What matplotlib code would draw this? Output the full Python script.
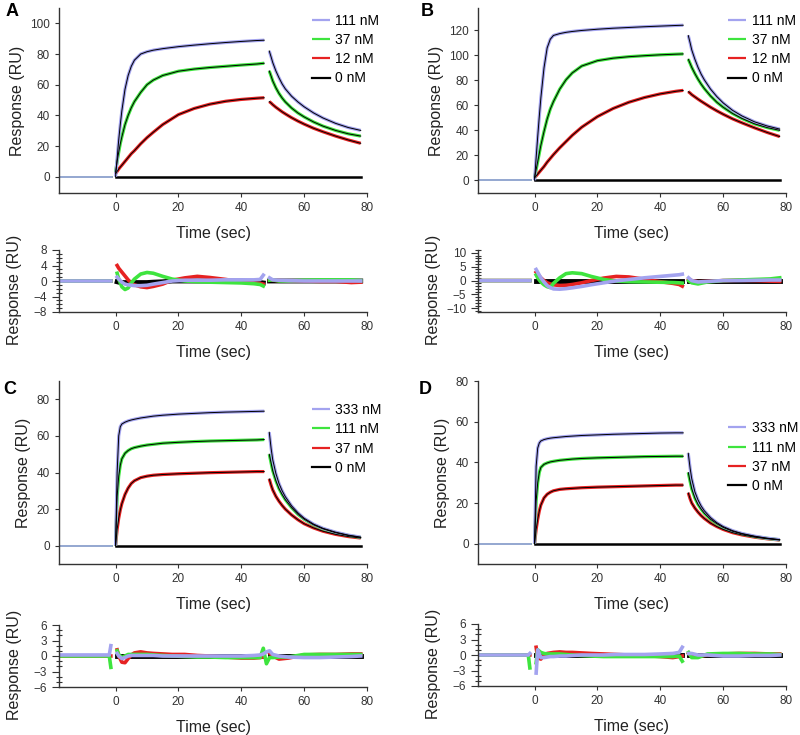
import numpy as np
import matplotlib.pyplot as plt
from matplotlib.ticker import MultipleLocator

plt.rcParams['font.family'] = ['Liberation Sans', 'DejaVu Sans']

# barvy koncentraci (vysoka, stredni, nizka, 0 nM)
c_hi = '#a3a3ef'
c_mid = '#3ee43e'
c_lo = '#e62222'

# casy asociace a disociace (sec)
t_as = [0, 0.5, 1, 1.5, 2, 3, 4, 5, 6, 8, 10, 12, 15, 20, 25, 30, 35, 40, 45, 47.3]
t_dis = [48.9, 49.5, 50, 51, 52, 53, 54, 56, 58, 60, 63, 66, 70, 74, 78]
t_base = [-18, -10, -1]
base = [0, 0, 0]
t_blank = [0, 20, 47.3, 48.9, 78]
blank = [0, 0, 0, 0, 0]

# panel A (111, 37, 12 nM)
A_hi = [0, 12, 24, 34, 43, 57, 66, 72, 76, 80, 81.5, 82.5, 83.5, 84.8, 85.8, 86.7, 87.5, 88.2, 88.8, 89]
A_mid = [3, 10, 16, 21.5, 26, 34, 40, 45, 49, 55, 60, 63, 66, 68.8, 70.2, 71.2, 72, 72.8, 73.5, 74]
A_lo = [2, 3.5, 5, 6.3, 7.5, 10, 12.5, 15, 17, 21.5, 25.5, 29, 34, 40.5, 44.5, 47.3, 49.2, 50.4, 51.2, 51.5]
A_hi_d = [82, 78, 74.5, 69, 64.5, 60.5, 57.3, 52.5, 48.8, 45.6, 41.6, 38.3, 34.8, 32.1, 30.2]
A_mid_d = [69, 65.5, 62.5, 58, 54.3, 51.3, 48.8, 44.8, 41.6, 39, 35.7, 33, 30.2, 28, 26.5]
A_lo_d = [49, 48, 47, 45.3, 43.8, 42.3, 41, 38.5, 36.3, 34.3, 31.6, 29.3, 26.5, 24, 21.8]

# panel B (111, 37, 12 nM)
B_hi = [0, 18, 35, 51, 66, 90, 106, 113, 116, 117.5, 118.5, 119.2, 120, 121, 121.8, 122.4, 123, 123.5, 124, 124.2]
B_mid = [2, 8.5, 15, 21.5, 28, 39, 49, 57, 63, 73, 80.5, 86, 91.5, 95.8, 97.8, 99, 99.8, 100.5, 101, 101.2]
B_lo = [2, 3.5, 5, 6.5, 8, 11, 14.5, 17.5, 20.5, 26, 31, 36, 42.5, 51, 57.5, 62.5, 66.3, 69.2, 71.3, 72]
B_hi_d = [116, 110, 104.5, 97, 90.5, 85, 80.5, 73, 67, 62, 56, 51.5, 46.8, 43.5, 41]
B_mid_d = [97, 93.5, 90.5, 85.5, 81, 77, 73.5, 67.5, 62.5, 58.5, 53.5, 49.5, 45.2, 42.2, 40]
B_lo_d = [71, 69.8, 68.6, 66.8, 65, 63.3, 61.7, 58.5, 55.6, 52.9, 49.2, 46, 42, 38.3, 35]

# panel C (333, 111, 37 nM)
C_hi = [0, 40, 60, 65, 66.5, 67.5, 68.2, 68.7, 69.1, 69.8, 70.3, 70.8, 71.3, 71.9, 72.3, 72.7, 73, 73.2, 73.4, 73.5]
C_mid = [0, 27, 38, 44, 47.5, 50.5, 52, 53, 53.6, 54.4, 55, 55.4, 56, 56.5, 56.9, 57.2, 57.4, 57.6, 57.8, 58]
C_lo = [0, 9, 15, 19.5, 23, 28, 31.5, 34, 35.5, 37.2, 38, 38.5, 38.9, 39.3, 39.6, 39.9, 40.1, 40.3, 40.5, 40.5]
C_hi_d = [62, 53, 47, 39.5, 34, 30, 26.8, 21.8, 18, 15, 11.8, 9.5, 7.4, 5.8, 4.7]
C_mid_d = [50, 45, 41, 35.5, 31.2, 28, 25.2, 20.8, 17.2, 14.5, 11.4, 9.2, 7.1, 5.6, 4.5]
C_lo_d = [36.5, 33, 30.5, 27, 24.3, 22, 20, 16.8, 14.2, 12, 9.7, 7.9, 6.2, 5, 4.2]

# panel D (333, 111, 37 nM)
D_hi = [0, 38, 47, 49.5, 50.5, 51.2, 51.6, 51.9, 52.1, 52.4, 52.7, 52.9, 53.2, 53.5, 53.8, 54, 54.2, 54.4, 54.5, 54.5]
D_mid = [0, 21, 30, 35, 37.5, 39, 39.7, 40.2, 40.5, 41, 41.3, 41.6, 41.9, 42.2, 42.4, 42.6, 42.8, 42.9, 43, 43]
D_lo = [0, 7, 12, 16, 19, 22.5, 24.3, 25.3, 26, 26.7, 27, 27.2, 27.5, 27.8, 28, 28.2, 28.4, 28.6, 28.8, 28.8]
D_hi_d = [44.5, 37, 32, 25.5, 21.5, 18.5, 16.2, 12.8, 10.3, 8.4, 6.4, 5, 3.7, 2.7, 2]
D_mid_d = [35, 30.5, 27, 22.5, 19.3, 17, 15, 12, 9.8, 8, 6.1, 4.8, 3.5, 2.6, 1.9]
D_lo_d = [25, 22, 20, 17.5, 15.5, 13.8, 12.4, 10.1, 8.4, 7, 5.4, 4.3, 3.2, 2.4, 1.8]

# rezidua (nan = preruseni krivky)
nan = np.nan
t_res = [-18, -10, -2, -1.5, -1, 0.5, 1, 2, 3, 4, 5, 6, 8, 10, 12, 15, 18, 22, 26, 30,
         35, 40, 44, 46, 47, 48, 49, 50, 52, 55, 60, 65, 70, 75, 78]
rA_hi = [0, 0, 0, 0, nan, 1, 0.5, -0.3, -0.8, -1, -1.1, -1.2, -1.2, -1.1, -0.8, -0.4, 0, 0.2, 0.2, 0.2,
         0.3, 0.3, 0.3, 0.4, 1.5, nan, 0.8, 0.3, 0.2, 0.1, 0, 0, 0, 0, 0]
rA_mid = [0, 0, 0, 0, nan, 2, 0.5, -1.5, -2.2, -1.8, -0.5, 0.5, 1.8, 2.2, 2, 1.2, 0.5, 0, -0.2, -0.3,
          -0.4, -0.5, -0.7, -0.9, -1.3, nan, 0.2, 0.3, 0, 0, 0.2, 0.3, 0.3, 0.3, 0.1]
rA_lo = [0, 0, 0, 0, nan, 4, 3.3, 2.3, 1.3, 0.3, -0.5, -1, -1.5, -1.7, -1.4, -0.8, 0.2, 0.8, 1.2, 0.9,
         0.4, -0.2, -0.5, -0.6, -0.8, nan, 0.3, 0.2, 0.1, 0, 0, -0.1, -0.1, -0.4, -0.3]
rA_0 = [nan, nan, nan, nan, nan, -0.2, -0.3, -0.4, -0.4, -0.4, -0.4, -0.4, -0.4, -0.4, -0.3, -0.2, 0, 0, 0, 0,
        0, 0, -0.2, -0.4, -0.5, nan, 0, 0, 0, 0, 0, 0, 0, 0, 0]
rB_hi = [0, 0, 0, 0, nan, 4, 3, 1, -0.5, -1.8, -2.5, -3, -3.1, -2.9, -2.6, -2.1, -1.5, -0.8, -0.1, 0.4,
         1, 1.5, 1.9, 2.1, 2.3, nan, 1, 0, -0.5, -0.3, 0, 0, 0.1, 0.2, 0.2]
rB_mid = [0, 0, 0, 0, nan, 2, 1, -0.5, -1.5, -2.2, -2.5, -1, 1, 2.5, 2.8, 2.5, 1.5, 0.4, -0.2, -0.4,
          -0.5, -0.6, -0.7, -0.8, -0.9, nan, 0, -0.8, -1.2, -0.5, 0, 0.2, 0.4, 0.6, 1]
rB_lo = [0, 0, 0, 0, nan, 3, 2.3, 1, 0, -0.8, -1.2, -1.5, -1.8, -1.7, -1.4, -0.8, 0, 0.9, 1.5, 1.3,
         0.5, -0.4, -1, -1.4, -2, nan, 0.5, 0, -0.4, -0.3, 0, 0.1, 0, -0.2, -0.3]
rB_0 = [nan, nan, nan, nan, nan, 0, 0, 0, 0, 0, 0, 0, 0, 0, 0, 0, 0, 0, 0, 0,
        0, 0, 0, 0, 0, nan, 0, 0, 0, 0, 0, 0, 0, 0, 0]
rC_hi = [0.2, 0.2, 0.2, 2, nan, 0.5, 0, -0.5, -0.3, 0, 0.1, 0.1, 0.1, 0.1, 0.1, 0, 0, 0, 0, 0,
         0, 0, 0.1, 0.2, 0.4, 0.8, 1, 0.3, 0, -0.2, -0.3, -0.3, -0.2, -0.1, 0]
rC_mid = [0, 0, 0, -2.2, nan, 1, 0.3, -0.3, 0, 0.3, 0.3, 0.3, 0.3, 0.3, 0.2, 0.1, 0, -0.1, -0.2, -0.2,
          -0.3, -0.3, -0.3, -0.3, 1.5, -1.5, -0.3, -0.3, -0.2, -0.2, 0.3, 0.3, 0.3, 0.3, 0.3]
rC_lo = [0, 0, 0, 0, nan, 1.2, 0, -1.2, -1.3, -0.5, 0.2, 0.6, 0.8, 0.6, 0.5, 0.4, 0.3, 0.3, 0.1, 0,
         -0.2, -0.4, -0.4, -0.3, -0.2, nan, 0.6, 0, -0.6, -0.4, 0.2, 0.3, 0.3, 0.4, 0.4]
rD_hi = [0, 0, 0, 0.3, nan, -3.5, 1, -0.5, -0.5, -0.4, -0.3, -0.3, -0.2, -0.2, -0.1, 0, 0, 0, 0.1, 0.1,
         0.1, 0.2, 0.3, 0.5, 1.5, nan, 0.3, 0.3, 0, 0, -0.2, -0.2, -0.1, -0.1, 0]
rD_mid = [0, 0, 0, -2.5, nan, -1.5, 1, 0.5, 0.3, 0.2, 0.2, 0.2, 0.2, 0.1, 0, -0.1, -0.2, -0.3, -0.3, -0.3,
          -0.3, -0.3, -0.3, -0.2, -1.2, nan, 0.5, -0.5, -0.5, 0.2, 0.3, 0.3, 0.2, 0.2, 0.1]
rD_lo = [0, 0, 0, 0, nan, 1.5, -0.5, -0.8, 0, 0.3, 0.4, 0.5, 0.6, 0.5, 0.5, 0.4, 0.3, 0.2, 0.1, 0,
         -0.1, -0.3, -0.5, -0.3, -0.2, nan, 0.3, -0.3, -0.3, 0, 0.2, 0.3, 0.3, 0.2, 0.2]

labels_AB = ['111 nM', '37 nM', '12 nM', '0 nM']
labels_CD = ['333 nM', '111 nM', '37 nM', '0 nM']

fig = plt.figure(figsize=(8, 7.35), dpi=100)


def uprava_os(ax):
    # jen leva a spodni osa
    ax.spines['top'].set_visible(False)
    ax.spines['right'].set_visible(False)
    for s in ['left', 'bottom']:
        ax.spines[s].set_color('#333333')
        ax.spines[s].set_linewidth(1.0)
    ax.set_xlim(-18, 80)
    ax.set_xticks([0, 20, 40, 60, 80])
    ax.tick_params(labelsize=8.5, labelcolor='#333333', color='#333333', length=3, width=0.8)
    ax.set_xlabel('Time (sec)', fontsize=11.5, color='#222222', labelpad=8.5)


def senzorgram(ax, vys, stred, niz, vys_d, stred_d, niz_d, ylim, ystep, popisky, leg_x, leg_y):
    uprava_os(ax)
    # zakladni linie pred injekci
    for c in [c_lo, c_mid, c_hi]:
        ax.plot(t_base, base, color=c, lw=1.2)
    ax.plot(t_blank, blank, color='black', lw=1.8)
    # namerena data
    h = []
    for y, yd, c in [(niz, niz_d, c_lo), (stred, stred_d, c_mid), (vys, vys_d, c_hi)]:
        l, = ax.plot(t_as, y, color=c, lw=2.3, solid_capstyle='butt')
        ax.plot(t_dis, yd, color=c, lw=2.3, solid_capstyle='butt')
        h.append(l)
    # fit (cerne tenke krivky)
    for y, yd in [(niz, niz_d), (stred, stred_d), (vys, vys_d)]:
        ax.plot(t_as, y, color='black', lw=0.7)
        ax.plot(t_dis, yd, color='black', lw=0.7)
    h0, = ax.plot([], [], color='black', lw=1.6)
    ax.set_ylim(*ylim)
    ax.yaxis.set_major_locator(MultipleLocator(ystep))
    ax.set_ylabel('Response (RU)', fontsize=11.5, color='#222222')
    leg = ax.legend([h[2], h[1], h[0], h0], popisky, loc='upper left', bbox_to_anchor=(leg_x, leg_y),
                    frameon=False, fontsize=10, handlelength=1.3, handletextpad=0.4,
                    labelspacing=0.38, borderaxespad=0, borderpad=0)
    for ln in leg.get_lines():
        ln.set_linewidth(1.6)


def rezidua(ax, vys, stred, niz, nula, ylim, ystep):
    uprava_os(ax)
    ax.plot(t_res, nula, color='black', lw=3.5)
    ax.plot(t_res, niz, color=c_lo, lw=2.6)
    ax.plot(t_res, stred, color=c_mid, lw=2.6)
    ax.plot(t_res, vys, color=c_hi, lw=2.6)
    ax.set_ylim(*ylim)
    ax.yaxis.set_major_locator(MultipleLocator(ystep))
    ax.yaxis.set_minor_locator(MultipleLocator(1))
    ax.tick_params(axis='y', which='minor', direction='inout', length=5, width=0.8, color='#333333')
    ax.tick_params(axis='y', which='major', length=5)
    ax.set_ylabel('Response (RU)', fontsize=11.5, color='#222222')
    ax.yaxis.set_label_coords(-0.12, 0.35)


# rozmisteni panelu (v pixelech prevedeno na zlomky)
W, H = 800, 735
def pozice(x0, x1, y0, y1):
    return [x0 / W, 1 - y1 / H, (x1 - x0) / W, (y1 - y0) / H]

axA = fig.add_axes(pozice(59, 367, 8, 193))
axAr = fig.add_axes(pozice(59, 367, 250, 312))
axB = fig.add_axes(pozice(478, 786, 8, 193))
axBr = fig.add_axes(pozice(478, 786, 250, 312))
axC = fig.add_axes(pozice(59, 367, 381, 564))
axCr = fig.add_axes(pozice(59, 367, 625, 687))
axD = fig.add_axes(pozice(478, 786, 381, 564))
axDr = fig.add_axes(pozice(478, 786, 624, 686))

senzorgram(axA, A_hi, A_mid, A_lo, A_hi_d, A_mid_d, A_lo_d, (-10.6, 110), 20, labels_AB, 0.82, 0.97)
senzorgram(axB, B_hi, B_mid, B_lo, B_hi_d, B_mid_d, B_lo_d, (-10.2, 138), 20, labels_AB, 0.813, 0.97)
senzorgram(axC, C_hi, C_mid, C_lo, C_hi_d, C_mid_d, C_lo_d, (-10, 90), 20, labels_CD, 0.82, 0.88)
senzorgram(axD, D_hi, D_mid, D_lo, D_hi_d, D_mid_d, D_lo_d, (-10, 80), 20, labels_CD, 0.813, 0.78)

rezidua(axAr, rA_hi, rA_mid, rA_lo, rA_0, (-8, 8), 4)
rezidua(axBr, rB_hi, rB_mid, rB_lo, rB_0, (-11.3, 11), 5)
rezidua(axCr, rC_hi, rC_mid, rC_lo, rB_0, (-6, 6), 3)
rezidua(axDr, rD_hi, rD_mid, rD_lo, rB_0, (-6, 6), 3)

# pismena panelu
for x, y, s in [(12, 12, 'A'), (427, 12, 'B'), (10, 390, 'C'), (425, 390, 'D')]:
    fig.text(x / W, 1 - y / H, s, fontsize=13, fontweight='bold', ha='center', va='center')

fig.savefig('out.png', dpi=100)
